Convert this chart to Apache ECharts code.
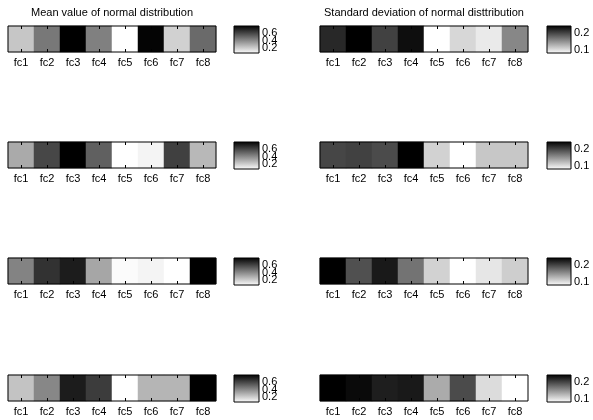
<!DOCTYPE html>
<html><head><meta charset="utf-8">
<script src="https://cdn.jsdelivr.net/npm/echarts@6/dist/echarts.min.js"></script>
<style>html,body{margin:0;padding:0;background:#fff}#c{width:593px;height:420px}</style>
</head><body><div id="c"></div>
<script>
// ---- data ----
const categories = ['fc1', 'fc2', 'fc3', 'fc4', 'fc5', 'fc6', 'fc7', 'fc8'];
const meanTitle = 'Mean value of normal distribution';
const stdTitle = 'Standard deviation of normal disttribution';
const meanRow1 = [0.23, 0.45, 0.79, 0.43, 0.07, 0.78, 0.20, 0.49];
const meanRow2 = [0.31, 0.59, 0.79, 0.52, 0.07, 0.10, 0.61, 0.27];
const meanRow3 = [0.42, 0.65, 0.71, 0.32, 0.08, 0.10, 0.07, 0.79];
const meanRow4 = [0.24, 0.41, 0.71, 0.62, 0.07, 0.28, 0.28, 0.79];
const stdRow1 = [0.215, 0.240, 0.199, 0.231, 0.080, 0.105, 0.093, 0.155];
const stdRow2 = [0.196, 0.199, 0.193, 0.240, 0.108, 0.080, 0.115, 0.115];
const stdRow3 = [0.240, 0.190, 0.224, 0.168, 0.108, 0.080, 0.096, 0.111];
const stdRow4 = [0.240, 0.234, 0.221, 0.224, 0.133, 0.193, 0.102, 0.080];
const meanRange = [0.07, 0.79];
const stdRange = [0.08, 0.24];
const meanTicks = [0.2, 0.4, 0.6];
const stdTicks = [0.1, 0.2];

// ---- layout ----
const rowTops = [26, 142, 258, 375];
const stripLeft = [8, 320];
const stripW = 208, stripH = 26;
const cbLeft = [234, 547];
const cbW = [25, 24];
const FONT = 'Liberation Sans, Arial, Helvetica, sans-serif';

const panels = [
  { col: 0, row: 0, data: meanRow1 }, { col: 1, row: 0, data: stdRow1 },
  { col: 0, row: 1, data: meanRow2 }, { col: 1, row: 1, data: stdRow2 },
  { col: 0, row: 2, data: meanRow3 }, { col: 1, row: 2, data: stdRow3 },
  { col: 0, row: 3, data: meanRow4 }, { col: 1, row: 3, data: stdRow4 }
];

const grid = [], xAxis = [], yAxis = [], series = [], visualMap = [];
panels.forEach((p, i) => {
  const range = p.col === 0 ? meanRange : stdRange;
  const ticks = p.col === 0 ? meanTicks : stdTicks;
  const top = rowTops[p.row];
  const gS = grid.length;
  grid.push({ left: stripLeft[p.col], top: top, width: stripW, height: stripH,
    show: true, borderColor: '#000', borderWidth: 1, backgroundColor: 'transparent', z: 5 });
  const gC = grid.length;
  grid.push({ left: cbLeft[p.col], top: top, width: cbW[p.col], height: stripH + 1,
    show: true, borderColor: '#000', borderWidth: 1,
    backgroundColor: { type: 'linear', x: 0, y: 0, x2: 0, y2: 1,
      colorStops: [{ offset: 0, color: '#000' }, { offset: 1, color: '#fff' }] } });
  const xB = xAxis.length;
  xAxis.push({ type: 'category', gridIndex: gS, data: categories, position: 'bottom', z: 10,
    axisLine: { show: false },
    axisTick: { show: true, inside: true, alignWithLabel: true, length: 3, lineStyle: { color: '#000' } },
    axisLabel: { fontSize: 11, color: '#000', fontFamily: FONT, margin: 5 },
    splitLine: { show: false } });
  xAxis.push({ type: 'category', gridIndex: gS, data: categories, position: 'top', z: 10,
    axisLine: { show: false },
    axisTick: { show: true, inside: true, alignWithLabel: true, length: 3, lineStyle: { color: '#000' } },
    axisLabel: { show: false }, splitLine: { show: false } });
  xAxis.push({ type: 'category', gridIndex: gC, data: [''], show: false });
  const yS = yAxis.length;
  yAxis.push({ type: 'category', gridIndex: gS, data: [''], show: false });
  // one colorbar axis per tick label, so that crowded labels are all kept
  ticks.forEach(t => {
    yAxis.push({ type: 'value', gridIndex: gC, position: 'right', min: range[0], max: range[1],
      axisLine: { show: false }, axisTick: { show: false }, splitLine: { show: false },
      axisLabel: { show: true, customValues: [t], hideOverlap: false, showMinLabel: true, showMaxLabel: true,
        fontSize: 11, color: '#000', fontFamily: FONT, margin: 3,
        formatter: v => v.toFixed(1) } });
  });
  series.push({ type: 'heatmap', xAxisIndex: xB, yAxisIndex: yS,
    data: p.data.map((v, k) => [k, 0, v]), itemStyle: { borderWidth: 0 }, emphasis: { disabled: true } });
  visualMap.push({ type: 'continuous', show: false, seriesIndex: i, min: range[0], max: range[1],
    dimension: 2, inRange: { color: ['#ffffff', '#000000'] } });
});

const option = {
  animation: false,
  backgroundColor: '#fff',
  grid, xAxis, yAxis, series, visualMap,
  graphic: [
    { type: 'text', x: stripLeft[0] + stripW / 2, y: 13,
      style: { text: meanTitle, fontSize: 11, fontFamily: FONT, fill: '#000', align: 'center', verticalAlign: 'middle' } },
    { type: 'text', x: stripLeft[1] + stripW / 2, y: 13,
      style: { text: stdTitle, fontSize: 11, fontFamily: FONT, fill: '#000', align: 'center', verticalAlign: 'middle' } }
  ]
};
const chart = echarts.init(document.getElementById('c'), null, { renderer: 'canvas' });
chart.setOption(option);
</script></body></html>
